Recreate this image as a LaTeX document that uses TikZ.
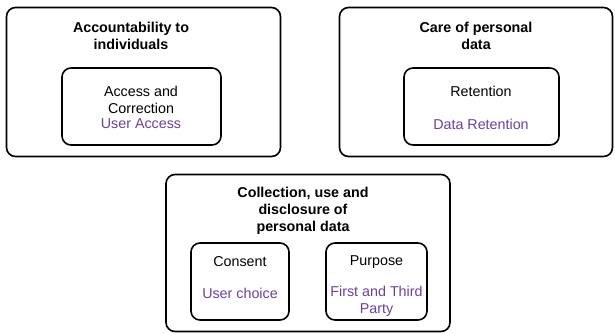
\documentclass[tikz,border=0pt]{standalone}
\usepackage{fontspec}
\setmainfont{Liberation Sans}
\usepackage{xcolor}
\usetikzlibrary{positioning}
\definecolor{ungu}{HTML}{6B3FA0}
\tikzset{
  kotak/.style={draw, line width=1.6pt, rounded corners=9pt, inner sep=0pt},
  judul/.style={font=\bfseries\fontsize{14.3}{17}\selectfont, align=center, inner sep=0pt},
  isi/.style={font=\fontsize{14.3}{17}\selectfont, align=center, inner sep=0pt},
  sub/.style={isi, text=ungu}
}
\begin{document}
\begin{tikzpicture}[x=1pt,y=-1pt]
        %BATAS
        \useasboundingbox (0,0) rectangle (615,333);
        %KOTAK LUAR
        \node[kotak, minimum width=274pt, minimum height=149pt] (akun) at (143.5,82) {};
        \node[kotak, minimum width=273pt, minimum height=149pt] (rawat) at (476,82) {};
        \node[kotak, minimum width=284pt, minimum height=157pt] (kumpul) at (308,253) {};
        %KOTAK DALAM
        \node[kotak, minimum width=159pt, minimum height=77pt] (akses) at (141.5,106.5) {};
        \node[kotak, minimum width=155pt, minimum height=77pt] (simpan) at (481.5,106.5) {};
        \node[kotak, minimum width=98pt, minimum height=77pt] (setuju) at (240,281.5) {};
        \node[kotak, minimum width=101pt, minimum height=77pt] (tujuan) at (376.5,281.5) {};
        %JUDUL
        \node[judul] (jakun) at (131,35.5) {Accountability to\\individuals};
        \node[judul] (jrawat) at (476,35.5) {Care of personal\\data};
        \node[judul] (jkumpul) at (303,210.5) {Collection, use and\\disclosure of\\personal data};
        %ISI
        \node[isi] (takses) at (141,99.5) {Access and\\Correction};
        \node[sub] (uakses) at (141,124) {User Access};
        \node[isi] (tsimpan) at (481,91) {Retention};
        \node[sub] (usimpan) at (481,124) {Data Retention};
        \node[isi] (tsetuju) at (240,262) {Consent};
        \node[sub] (usetuju) at (240,293) {User choice};
        \node[isi] (ttujuan) at (376.5,262) {Purpose};
        \node[sub] (utujuan) at (376.5,301.5) {First and Third\\Party};
\end{tikzpicture}
\end{document}
